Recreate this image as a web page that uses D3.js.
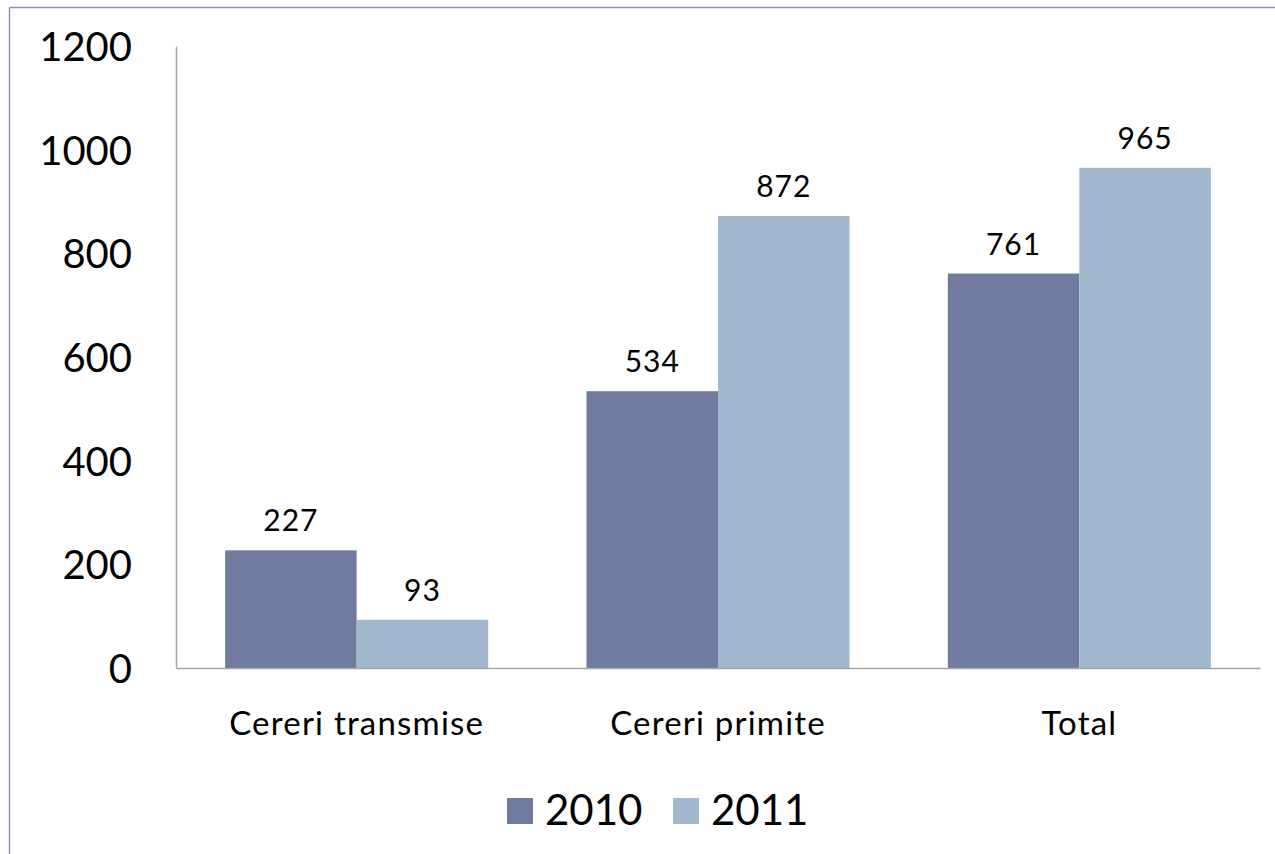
<!DOCTYPE html>
<html>
<head>
<meta charset="utf-8">
<script src="https://cdn.jsdelivr.net/npm/d3@7"></script>
<style>
  body { margin: 0; background: #fff; }
  svg text { font-family: Lato, "Open Sans", sans-serif; fill: #000; }
</style>
</head>
<body>
<svg id="chart" width="1275" height="854"></svg>
<script>
// data
var categories = ["Cereri transmise", "Cereri primite", "Total"];
var years = ["2010", "2011"];
var values2010 = [227, 534, 761];
var values2011 = [93, 872, 965];
var yTicks = [0, 200, 400, 600, 800, 1000, 1200];

var colors = ["#717ba0", "#a2b8cf"];

var svg = d3.select("#chart"),
    margin = { top: 46, left: 176, bottom: 186, right: 15 },
    width = +svg.attr("width"),
    height = +svg.attr("height");

// thin frame on the top and left edges
svg.append("line")
    .attr("x1", 9.5).attr("x2", width).attr("y1", 7.5).attr("y2", 7.5)
    .attr("stroke", "#8b95bb").attr("stroke-width", 1.5);
svg.append("line")
    .attr("x1", 9.5).attr("x2", 9.5).attr("y1", 7.5).attr("y2", height)
    .attr("stroke", "#8b95bb").attr("stroke-width", 1.5);

var data = categories.map((c, i) => ({ cat: c, vals: [values2010[i], values2011[i]] }));

var x0 = d3.scaleBand()
    .domain(categories)
    .range([margin.left, width - margin.right])
    .paddingInner(0.272)
    .paddingOuter(0.136);

var x1 = d3.scaleBand()
    .domain(years)
    .range([0, x0.bandwidth()]);

var y = d3.scaleLinear()
    .domain([0, 1200])
    .range([height - margin.bottom, margin.top]);

// bars
var groups = svg.selectAll("g.cat")
    .data(data)
    .enter().append("g")
    .attr("class", "cat")
    .attr("transform", d => `translate(${x0(d.cat)},0)`);

groups.selectAll("rect")
    .data(d => d.vals.map((v, i) => ({ year: years[i], v: v, i: i })))
    .enter().append("rect")
    .attr("x", d => x1(d.year))
    .attr("y", d => y(d.v))
    .attr("width", x1.bandwidth())
    .attr("height", d => y(0) - y(d.v))
    .attr("fill", d => colors[d.i]);

groups.selectAll("text.val")
    .data(d => d.vals.map((v, i) => ({ year: years[i], v: v })))
    .enter().append("text")
    .attr("class", "val")
    .attr("x", d => x1(d.year) + x1.bandwidth() / 2)
    .attr("y", d => y(d.v) - 19)
    .attr("text-anchor", "middle")
    .style("font-size", "30px")
    .style("letter-spacing", "1px")
    .text(d => d.v);

// y axis
var yAxis = svg.append("g")
    .attr("transform", `translate(${margin.left},0)`)
    .call(d3.axisLeft(y).tickValues(yTicks).tickSize(0).tickPadding(44).tickFormat(d3.format("d")));
yAxis.select(".domain").attr("stroke", "#a6a6a6").attr("stroke-width", 1.5);
yAxis.selectAll("text")
    .style("font-size", "40px")
    .attr("dy", "0.36em");

// x axis
var xAxis = svg.append("g")
    .attr("transform", `translate(0,${y(0)})`)
    .call(d3.axisBottom(x0).tickSize(0).tickPadding(44));
xAxis.select(".domain").attr("stroke", "#a6a6a6").attr("stroke-width", 1.5);
xAxis.selectAll("text")
    .style("font-size", "33px")
    .style("letter-spacing", "1.2px");

// legend
var legend = svg.append("g").attr("transform", "translate(507,798)");
var legendX = [0, 166];
years.forEach(function (yr, i) {
    var g = legend.append("g").attr("transform", `translate(${legendX[i]},0)`);
    g.append("rect")
        .attr("width", 26).attr("height", 26)
        .attr("fill", colors[i]);
    g.append("text")
        .attr("x", 38).attr("y", 27)
        .style("font-size", "42px")
        .text(yr);
});
</script>
</body>
</html>
